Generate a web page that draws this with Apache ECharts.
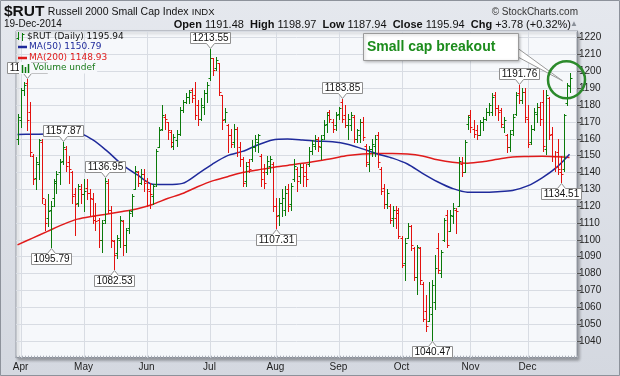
<!DOCTYPE html>
<html>
<head>
<meta charset="utf-8">
<title>$RUT</title>
<script src="https://cdn.jsdelivr.net/npm/echarts@6.0.0/dist/echarts.min.js"></script>
<style>
  html, body { margin: 0; padding: 0; }
  #chart { width: 620px; height: 376px; }
</style>
</head>
<body>
<div id="chart"></div>
<script>
// trading days on the chart
const dates = [
  'Mar 31',
  'Apr 1','Apr 2','Apr 3','Apr 4','Apr 7','Apr 8','Apr 9','Apr 10','Apr 11','Apr 14','Apr 15','Apr 16','Apr 17','Apr 21','Apr 22','Apr 23','Apr 24','Apr 25','Apr 28','Apr 29','Apr 30',
  'May 1','May 2','May 5','May 6','May 7','May 8','May 9','May 12','May 13','May 14','May 15','May 16','May 19','May 20','May 21','May 22','May 23','May 27','May 28','May 29','May 30',
  'Jun 2','Jun 3','Jun 4','Jun 5','Jun 6','Jun 9','Jun 10','Jun 11','Jun 12','Jun 13','Jun 16','Jun 17','Jun 18','Jun 19','Jun 20','Jun 23','Jun 24','Jun 25','Jun 26','Jun 27','Jun 30',
  'Jul 1','Jul 2','Jul 3','Jul 7','Jul 8','Jul 9','Jul 10','Jul 11','Jul 14','Jul 15','Jul 16','Jul 17','Jul 18','Jul 21','Jul 22','Jul 23','Jul 24','Jul 25','Jul 28','Jul 29','Jul 30','Jul 31',
  'Aug 1','Aug 4','Aug 5','Aug 6','Aug 7','Aug 8','Aug 11','Aug 12','Aug 13','Aug 14','Aug 15','Aug 18','Aug 19','Aug 20','Aug 21','Aug 22','Aug 25','Aug 26','Aug 27','Aug 28','Aug 29',
  'Sep 2','Sep 3','Sep 4','Sep 5','Sep 8','Sep 9','Sep 10','Sep 11','Sep 12','Sep 15','Sep 16','Sep 17','Sep 18','Sep 19','Sep 22','Sep 23','Sep 24','Sep 25','Sep 26','Sep 29','Sep 30',
  'Oct 1','Oct 2','Oct 3','Oct 6','Oct 7','Oct 8','Oct 9','Oct 10','Oct 13','Oct 14','Oct 15','Oct 16','Oct 17','Oct 20','Oct 21','Oct 22','Oct 23','Oct 24','Oct 27','Oct 28','Oct 29','Oct 30','Oct 31',
  'Nov 3','Nov 4','Nov 5','Nov 6','Nov 7','Nov 10','Nov 11','Nov 12','Nov 13','Nov 14','Nov 17','Nov 18','Nov 19','Nov 20','Nov 21','Nov 24','Nov 25','Nov 26','Nov 28',
  'Dec 1','Dec 2','Dec 3','Dec 4','Dec 5','Dec 8','Dec 9','Dec 10','Dec 11','Dec 12','Dec 15','Dec 16','Dec 17','Dec 18','Dec 19'
];

const opens = [
  1160,
  1171,1189,1193,1176,1150,1137,1145,1158,1121,1113,1118,1125,1134,1140,1147,1154,1146,1140,1127,1122,1130,
  1127,1131,1128,1124,1114,1112,1100,1112,1134,1118,1099,1092,1100,1111,1097,1107,1117,1130,1140,1134,1139,
  1135,1129,1126,1133,1155,1166,1173,1170,1164,1156,1159,1163,1177,1182,1185,1189,1186,1180,1172,1179,1187,
  1196,1208,1202,1205,1186,1172,1168,1162,1158,1166,1155,1148,1135,1146,1148,1155,1158,1150,1140,1140,1144,1145,
  1120,1115,1122,1118,1130,1121,1136,1142,1138,1143,1140,1145,1153,1156,1160,1155,1162,1169,1176,1170,1168,
  1175,1182,1174,1168,1168,1173,1160,1162,1170,1156,1145,1154,1156,1162,1142,1131,1121,1120,1113,1113,1118,
  1101,1086,1101,1108,1095,1078,1095,1074,1058,1052,1056,1063,1095,1080,1100,1115,1105,1114,1118,1120,1145,1140,1169,
  1174,1166,1165,1162,1170,1172,1176,1176,1186,1178,1177,1167,1162,1155,1165,1175,1187,1183,1188,
  1172,1158,1166,1175,1179,1182,1154,1184,1163,1150,1152,1140,1142,1181,1191.48
];
const highs = [
  1175,
  1190,1194,1195.5,1182,1151,1149,1160,1160,1124,1127,1123,1136,1141,1148,1157.87,1156,1150,1141,1131,1133,1133,
  1136,1136,1130,1128,1122,1113,1112,1136.95,1136,1120,1100,1103,1114,1112,1107,1118,1127,1144,1141,1142,1142,
  1137,1134,1133,1154,1167,1180,1175,1170,1165,1163,1165,1179,1183,1187,1189,1190,1194,1183,1184,1189,1194,
  1213.55,1208,1208.5,1205,1186,1178,1169,1166,1169,1167,1158,1149,1146,1148,1159,1162,1163,1151,1145,1150,1150,1146,
  1125,1125,1130,1132,1133,1134,1148,1143,1145,1145,1145,1155,1159,1162,1161,1162,1171,1176,1177,1172,1176,
  1179,1183.85,1180,1175,1176,1174,1166,1172,1173,1157,1156,1160,1162,1164,1143,1133,1130,1121,1120,1120,1119,
  1102,1101,1110,1109,1096,1097,1096,1075,1067,1075,1076,1091,1104,1094,1113,1118,1118,1122,1119,1149,1149,1159,1174,
  1177,1171,1168,1171,1173,1178,1181,1187,1188,1180,1178,1173,1163,1165,1175,1188,1191.76,1190,1190,
  1180,1168,1178,1181,1182,1189,1189,1185,1167,1153,1160,1150,1175,1193,1198.97
];
const lows = [
  1157,
  1167,1186,1165,1150,1133,1130,1136,1122,1106,1108,1095.79,1120,1128,1133,1145,1141,1134,1122,1103,1120,1122,
  1117,1124,1115,1110,1106,1096,1093,1110,1116,1096,1082.53,1089,1096,1091,1093,1104,1114,1130,1132,1133,1129,
  1120,1119,1121,1132,1155,1165,1166,1160,1155,1154,1156,1162,1176,1181,1181,1182,1172,1168,1171,1175,1182,
  1195,1198,1201,1186,1166,1170,1152,1155,1155,1150,1144,1132,1132,1140,1147,1153,1152,1132,1131,1139,1140,1117,
  1107.31,1109,1114,1115,1117,1118,1135,1129,1134,1132,1132,1144,1151,1154,1153,1148,1160,1164,1170,1164,1165,
  1172,1170,1167,1160,1165,1158,1158,1158,1159,1144,1141,1150,1150,1143,1127,1119,1119,1110,1108,1107,1101,
  1084,1076,1101,1094,1076,1068,1074,1052,1046,1052,1040.47,1059,1080,1078,1099,1096,1105,1110,1104,1120,1138,1140,1166,
  1164,1161,1160,1162,1165,1171,1174,1174,1174,1171,1167,1164,1152,1153,1162,1174,1181,1181,1170,
  1155,1157,1165,1170,1168,1153,1151,1160,1147,1141,1139,1134.51,1141,1180,1187.94
];
const closes = [
  1173,
  1189,1192,1171,1152,1136,1146,1159,1125,1110,1117,1120,1135,1139,1146,1155,1144,1142,1126,1121,1132,1127,
  1129,1128,1125,1112,1111,1100,1110,1135,1118,1100,1091,1101,1112,1097,1106,1116,1126,1141,1134,1139,1134,
  1130,1127,1132,1153,1165,1174,1172,1165,1158,1161,1163,1177,1182,1185,1188,1184,1174,1172,1180,1187,1192,
  1208,1201,1207,1188,1171,1176,1162,1157,1166,1152,1148,1134,1144,1142,1155,1160,1162,1136,1134,1147,1148,1120,
  1114,1122,1125,1128,1120,1132,1144,1135,1143,1138,1136,1153,1157,1160,1156,1160,1168,1174,1172,1166,1174,
  1178,1172,1168,1172,1174,1160,1165,1170,1161,1146,1154,1157,1160,1146,1129,1121,1128,1112,1118,1116,1102,
  1085,1098,1108,1097,1078,1096,1076,1053,1049,1060,1073,1083,1082,1093,1112,1097,1115,1119,1117,1147,1140,1158,1173,
  1167,1163,1162,1170,1172,1176,1180,1185,1178,1176,1169,1171,1155,1163,1173,1186,1183,1188,1173,
  1157,1166,1176,1179,1172,1156,1186,1162,1150,1143,1142,1139,1174,1192.16,1195.94
];

// moving averages every five bars
const maIdx = [0,5,10,15,20,25,30,35,40,45,50,55,60,65,70,75,80,85,90,95,100,105,110,115,120,125,130,135,140,145,150,155,160,165,170,175,180,184];
const ma50 = [1162.5,1162.7,1162.8,1163.2,1163.4,1159.5,1152.5,1144.5,1138.5,1133,1132.8,1133.5,1139,1145,1150,1152.5,1156.3,1159.3,1159.8,1159.3,1158.6,1158.2,1156.8,1154,1151,1148.5,1145,1139.5,1134.5,1130.5,1128.3,1128.3,1128.6,1129.3,1132,1137,1143.5,1150.79];
const ma200 = [1097,1101,1105,1109,1112.3,1114,1115.3,1116.8,1118.5,1121,1124.5,1127.5,1131.5,1135,1137.5,1140,1141.5,1143,1144.2,1145.4,1146.8,1148.3,1150,1151,1151.3,1151.3,1151,1149.8,1147.5,1146,1145.5,1146.3,1147.8,1149.2,1149.5,1149.6,1149.3,1148.93];

// labelled swing points: bar index, value, 1 = high (box above), -1 = low (box below)
const pivotIdx = [3, 11, 15, 29, 32, 64, 86, 108, 138, 167, 181];
const pivotVal = [1195.50, 1095.79, 1157.87, 1136.95, 1082.53, 1213.55, 1107.31, 1183.85, 1040.47, 1191.76, 1134.51];
const pivotSide = [1, -1, 1, 1, -1, 1, -1, 1, -1, 1, -1];

const yMin = 1030, yMax = 1224;

const upColor = '#0b7a0b';
const downColor = '#e3120f';
const blueMA = '#1f2a9b';
const redMA = '#e01b1b';
const plotBg = '#f6f8fb';
const gridColor = '#d8dce3';
const font = '"Liberation Sans", Arial, sans-serif';

const chart = echarts.init(document.getElementById('chart'));

const ohlcRows = dates.map((d, i) => {
  const ref = i === 0 ? opens[0] : closes[i - 1];
  return [i, opens[i], highs[i], lows[i], closes[i], closes[i] >= ref ? 1 : 0];
});
const monthStarts = dates.map((d, i) => i)
  .filter(i => i > 0 && dates[i].slice(0, 3) !== dates[i - 1].slice(0, 3));

function crisp(v) {
  return Math.round(v) + 0.5;
}

function renderOhlc(params, api) {
  const i = api.value(0);
  const o = api.coord([i, api.value(1)]);
  const h = api.coord([i, api.value(2)]);
  const l = api.coord([i, api.value(3)]);
  const c = api.coord([i, api.value(4)]);
  const color = api.value(5) ? upColor : downColor;
  const x = crisp(h[0]);
  const st = { stroke: color, lineWidth: 1 };
  return {
    type: 'group',
    children: [
      { type: 'line', shape: { x1: x, y1: Math.round(h[1]), x2: x, y2: Math.round(l[1]) + 1 }, style: st },
      { type: 'line', shape: { x1: x - 2, y1: crisp(o[1]), x2: x, y2: crisp(o[1]) }, style: st },
      { type: 'line', shape: { x1: x, y1: crisp(c[1]), x2: x + 2, y2: crisp(c[1]) }, style: st }
    ]
  };
}

function renderMonthLine(params, api) {
  const top = api.coord([api.value(0), yMax]);
  const bottom = api.coord([api.value(0), yMin]);
  const x = crisp(top[0]);
  return {
    type: 'line',
    shape: { x1: x, y1: top[1], x2: x, y2: bottom[1] },
    style: { stroke: gridColor, lineWidth: 1 }
  };
}

function renderPivot(params, api) {
  const p = api.coord([api.value(0), api.value(1)]);
  const side = api.value(2);
  const w = 40, hgt = 11, notch = 5;
  const cx = crisp(p[0]);
  const tip = side > 0 ? Math.round(p[1]) - 0.5 : Math.round(p[1]) + 1.5;
  const edge = side > 0 ? tip - notch : tip + notch;
  const far = side > 0 ? edge - hgt : edge + hgt;
  const l = cx - w / 2, r = cx + w / 2;
  return {
    type: 'group',
    children: [
      {
        type: 'polygon',
        shape: { points: [[l, far], [r, far], [r, edge], [cx + 4, edge], [cx, tip], [cx - 4, edge], [l, edge]] },
        style: { fill: '#ffffff', stroke: '#8f8f8f', lineWidth: 1 }
      },
      {
        type: 'text',
        style: {
          text: api.value(1).toFixed(2), x: cx, y: (edge + far) / 2 + 0.5,
          align: 'center', verticalAlign: 'middle',
          font: '10px ' + font, fill: '#111'
        }
      }
    ]
  };
}

const option = {
  animation: false,
  backgroundColor: {
    type: 'linear', x: 0, y: 0, x2: 0, y2: 1,
    colorStops: [{ offset: 0, color: '#e5e8ee' }, { offset: 1, color: '#d4d8e0' }]
  },
  grid: {
    left: 16, top: 31, width: 561, height: (yMax - yMin) * 1.684,
    show: true, backgroundColor: plotBg, borderColor: '#9ca1aa', borderWidth: 1,
    shadowColor: 'rgba(0,0,0,0.3)', shadowBlur: 3, shadowOffsetX: 2, shadowOffsetY: 2
  },
  xAxis: {
    type: 'category',
    data: dates.concat(['', '']),
    boundaryGap: true,
    axisLine: { lineStyle: { color: '#8d929b' } },
    axisTick: { show: true, inside: true, length: 2, interval: 0, lineStyle: { color: '#a9aeb7' } },
    axisLabel: {
      interval: (idx) => monthStarts.includes(idx),
      formatter: (v) => v.slice(0, 3),
      color: '#222', fontSize: 10, fontFamily: font, margin: 5
    },
    splitLine: { show: false }
  },
  yAxis: {
    type: 'value',
    position: 'right',
    min: yMin, max: yMax, interval: 10,
    axisLine: { show: true, lineStyle: { color: '#8d929b' } },
    axisTick: { show: true, length: 4, lineStyle: { color: '#555' } },
    axisLabel: {
      color: '#222', fontSize: 10, fontFamily: font, margin: 2,
      showMinLabel: false, showMaxLabel: false,
      formatter: (v) => String(v)
    },
    splitLine: { lineStyle: { color: gridColor } }
  },
  series: [
    {
      name: 'months', type: 'custom', silent: true, z: 1,
      data: monthStarts.map(i => [i]),
      encode: { x: 0 },
      renderItem: renderMonthLine
    },
    {
      name: 'MA(200)', type: 'line', z: 2, silent: true,
      data: maIdx.map((x, k) => [x, ma200[k]]),
      showSymbol: false, smooth: 0.3,
      lineStyle: { color: redMA, width: 1.5 }
    },
    {
      name: 'MA(50)', type: 'line', z: 2, silent: true,
      data: maIdx.map((x, k) => [x, ma50[k]]),
      showSymbol: false, smooth: 0.3,
      lineStyle: { color: blueMA, width: 1.5 }
    },
    {
      name: '$RUT', type: 'custom', z: 3,
      data: ohlcRows,
      encode: { x: 0, y: [1, 2, 3, 4] },
      renderItem: renderOhlc
    },
    {
      name: 'pivots', type: 'custom', z: 4, silent: true,
      data: pivotIdx.map((x, k) => [x, pivotVal[k], pivotSide[k]]),
      encode: { x: 0, y: 1 },
      renderItem: renderPivot
    }
  ]
};
chart.setOption(option);

// annotation anchored on the last bars
const ring = chart.convertToPixel({ gridIndex: 0 }, [183, 1195]);
const legendFont = '9px "DejaVu Sans", Verdana, sans-serif';

chart.setOption({
  graphic: [
    // header
    {
      type: 'text', z: 100,
      style: {
        text: '{b|$RUT} {n|Russell 2000 Small Cap Index} {s|INDX}',
        x: 4, y: 12, verticalAlign: 'middle',
        rich: {
          b: { font: 'bold 15.5px ' + font, fill: '#111' },
          n: { font: '10.5px ' + font, fill: '#111' },
          s: { font: '9.5px ' + font, fill: '#111' }
        }
      }
    },
    { type: 'text', z: 100, style: { text: '© StockCharts.com', x: 578, y: 12, align: 'right', verticalAlign: 'middle', font: '10px ' + font, fill: '#333' } },
    { type: 'text', z: 100, style: { text: '19-Dec-2014', x: 4, y: 24.5, verticalAlign: 'middle', font: '10px ' + font, fill: '#111' } },
    {
      type: 'text', z: 100,
      style: {
        text: '{b|Open} 1191.48  {b|High} 1198.97  {b|Low} 1187.94  {b|Close} 1195.94  {b|Chg} +3.78 (+0.32%)',
        x: 571, y: 24.5, align: 'right', verticalAlign: 'middle',
        font: '11px ' + font, fill: '#111',
        rich: { b: { font: 'bold 11px ' + font, fill: '#111' } }
      }
    },
    { type: 'text', z: 100, style: { text: '▲', x: 578, y: 24, align: 'right', verticalAlign: 'middle', font: '8px ' + font, fill: '#8a9099' } },

    // legend
    { type: 'line', z: 100, shape: { x1: 18.5, y1: 32, x2: 18.5, y2: 40 }, style: { stroke: upColor, lineWidth: 1 } },
    { type: 'line', z: 100, shape: { x1: 16.5, y1: 38.5, x2: 18.5, y2: 38.5 }, style: { stroke: upColor, lineWidth: 1 } },
    { type: 'line', z: 100, shape: { x1: 22.5, y1: 33, x2: 22.5, y2: 41 }, style: { stroke: upColor, lineWidth: 1 } },
    { type: 'line', z: 100, shape: { x1: 22.5, y1: 34.5, x2: 24.5, y2: 34.5 }, style: { stroke: upColor, lineWidth: 1 } },
    { type: 'text', z: 100, style: { text: '$RUT (Daily) 1195.94', x: 27, y: 36.5, verticalAlign: 'middle', font: legendFont, fill: '#111' } },

    { type: 'line', z: 100, shape: { x1: 18, y1: 47, x2: 27, y2: 47 }, style: { stroke: blueMA, lineWidth: 2.5 } },
    { type: 'text', z: 100, style: { text: 'MA(50) 1150.79', x: 29, y: 47, verticalAlign: 'middle', font: legendFont, fill: blueMA } },
    { type: 'line', z: 100, shape: { x1: 18, y1: 58, x2: 27, y2: 58 }, style: { stroke: redMA, lineWidth: 2.5 } },
    { type: 'text', z: 100, style: { text: 'MA(200) 1148.93', x: 29, y: 58, verticalAlign: 'middle', font: legendFont, fill: redMA } },

    { type: 'rect', z: 100, shape: { x: 19, y: 62, width: 12, height: 12 }, style: { fill: plotBg } },
    { type: 'line', z: 101, shape: { x1: 22.5, y1: 65, x2: 22.5, y2: 73 }, style: { stroke: upColor, lineWidth: 1.5 } },
    { type: 'line', z: 101, shape: { x1: 25.5, y1: 67, x2: 25.5, y2: 73 }, style: { stroke: upColor, lineWidth: 1.5 } },
    { type: 'line', z: 101, shape: { x1: 28.5, y1: 64, x2: 28.5, y2: 73 }, style: { stroke: upColor, lineWidth: 1.5 } },
    { type: 'text', z: 100, style: { text: 'Volume undef', x: 31, y: 68, verticalAlign: 'middle', font: legendFont, fill: '#1a7a1a', backgroundColor: plotBg, padding: [1, 2] } },

    // callout
    {
      type: 'polygon', z: 110,
      shape: { points: [[516, 47], [ring[0] - 4, ring[1] + 1], [516, 56]] },
      style: { fill: '#ffffff', stroke: '#9a9a9a', lineWidth: 1 }
    },
    {
      type: 'rect', z: 111,
      shape: { x: 363.5, y: 33.5, width: 155, height: 27 },
      style: { fill: '#ffffff', stroke: '#9a9a9a', lineWidth: 1, shadowBlur: 3, shadowColor: 'rgba(0,0,0,0.25)', shadowOffsetX: 1, shadowOffsetY: 1 }
    },
    { type: 'text', z: 112, style: { text: 'Small cap breakout', x: 367, y: 47.5, verticalAlign: 'middle', font: 'bold 14px ' + font, fill: '#1c8c1c' } },
    {
      type: 'circle', z: 113,
      shape: { cx: ring[0], cy: ring[1], r: 18.5 },
      style: { fill: 'none', stroke: '#2b8a2b', lineWidth: 2.5 }
    },

    // outer frame
    { type: 'rect', z: 120, shape: { x: 0.5, y: 0.5, width: 619, height: 375 }, style: { fill: 'none', stroke: '#8d929b', lineWidth: 1 } }
  ]
});
</script>
</body>
</html>
